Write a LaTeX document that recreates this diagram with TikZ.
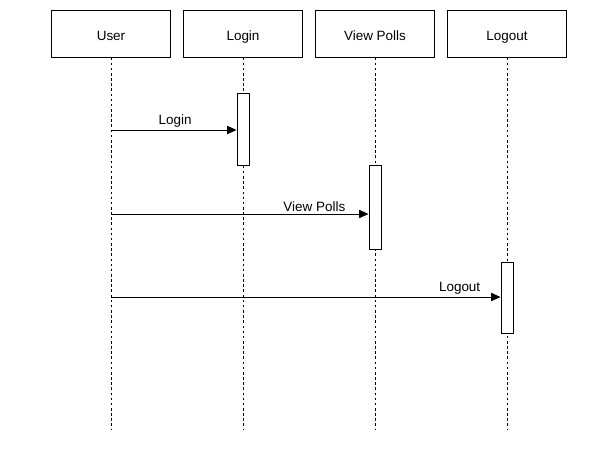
\documentclass[tikz,border=0pt]{standalone}
\usepackage{fontspec}
\setmainfont{Liberation Sans}
\usetikzlibrary{arrows.meta}

\begin{document}
\begin{tikzpicture}[x=0.03cm, y=-0.03cm,
    actor/.style={draw, thick, minimum width=119*0.03cm, minimum height=47*0.03cm, text height=12pt, text depth=0pt, font=\fontsize{11.5}{13}\selectfont},
    lifeline/.style={thick, dash pattern=on 2.2pt off 2.2pt},
    activa/.style={draw, thick, fill=white, minimum width=12*0.03cm},
    msg/.style={-{Triangle[length=8pt, width=7pt]}, thick},
    lbl/.style={font=\fontsize{11.5}{13}\selectfont, above, inner sep=2pt}]
    \useasboundingbox (0,0) rectangle (612,462);

    % Actores
    \node[actor] (user)   at (111,33.5) {User};
    \node[actor] (login)  at (243,33.5) {Login};
    \node[actor] (polls)  at (375,33.5) {View Polls};
    \node[actor] (logout) at (507,33.5) {Logout};

    % Lineas de vida
    \foreach \n in {user, login, polls, logout}
        \draw[lifeline] (\n.south) -- (\n.south |- 0,430);

    % Activaciones
    \node[activa, minimum height=72*0.03cm] (act1) at (243,129) {};
    \node[activa, minimum height=84*0.03cm] (act2) at (375,207) {};
    \node[activa, minimum height=71*0.03cm] (act3) at (507,297.5) {};

    % Mensajes
    \coordinate (m1) at (111,130);
    \coordinate (m2) at (111,214);
    \coordinate (m3) at (111,297);
    \draw[msg] (m1) -- (act1.west |- m1) node[lbl, pos=0.51] {Login};
    \draw[msg] (m2) -- (act2.west |- m2) node[lbl, pos=0.79] {View Polls};
    \draw[msg] (m3) -- (act3.west |- m3) node[lbl, pos=0.895] {Logout};
\end{tikzpicture}
\end{document}
